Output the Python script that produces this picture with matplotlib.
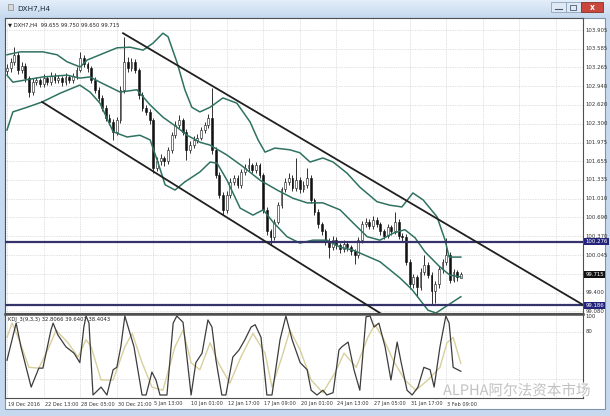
import numpy as np
import matplotlib
matplotlib.use("Agg")
import matplotlib.pyplot as plt
from matplotlib.patches import Rectangle, Ellipse
import matplotlib.patheffects as pe

# ---- candles (DXH7, H4), two source bars per candle ----
opens = [103.20, 103.25, 103.36, 103.48, 103.22, 103.29, 103.08, 102.84, 103.02, 103.05,
         102.98, 103.08, 103.02, 103.12, 103.05, 103.08, 103.02, 103.10, 103.05, 103.12,
         103.22, 103.43, 103.32, 103.25, 103.05, 102.88, 102.74, 102.57, 102.40, 102.33,
         102.16, 102.36, 102.88, 103.36, 103.25, 103.36, 103.22, 102.79, 102.57, 102.50,
         102.36, 101.54, 101.65, 101.71, 101.65, 101.85, 102.11, 102.28, 102.36, 102.16,
         101.85, 101.94, 102.02, 102.06, 102.19, 102.28, 102.40, 101.85, 101.42, 101.08,
         100.82, 101.08, 101.30, 101.37, 101.25, 101.47, 101.54, 101.59, 101.51, 101.59,
         101.42, 100.82, 100.45, 100.35, 100.62, 100.91, 101.17, 101.30, 101.37, 101.20,
         101.34, 101.17, 101.25, 101.37, 100.99, 100.79, 100.57, 100.45, 100.28, 100.18,
         100.31, 100.21, 100.14, 100.24, 100.18, 100.11, 100.04, 100.31, 100.57, 100.62,
         100.55, 100.65, 100.58, 100.45, 100.38, 100.52, 100.45, 100.62, 100.38, 100.35,
         99.93, 99.54, 99.66, 99.49, 99.76, 99.88, 99.71, 99.42, 99.54, 99.80,
         99.93, 100.05, 99.62, 99.76, 99.655]
closes = [103.25, 103.36, 103.48, 103.22, 103.29, 103.08, 102.84, 103.02, 103.05, 102.98,
          103.08, 103.02, 103.12, 103.05, 103.08, 103.02, 103.10, 103.05, 103.12, 103.22,
          103.43, 103.32, 103.25, 103.05, 102.88, 102.74, 102.57, 102.40, 102.33, 102.16,
          102.36, 102.88, 103.36, 103.25, 103.36, 103.22, 102.79, 102.57, 102.50, 102.36,
          101.54, 101.65, 101.71, 101.65, 101.85, 102.11, 102.28, 102.36, 102.16, 101.85,
          101.94, 102.02, 102.06, 102.19, 102.28, 102.40, 101.85, 101.42, 101.08, 100.82,
          101.08, 101.30, 101.37, 101.25, 101.47, 101.54, 101.59, 101.51, 101.59, 101.42,
          100.82, 100.45, 100.35, 100.62, 100.91, 101.17, 101.30, 101.37, 101.20, 101.34,
          101.17, 101.25, 101.37, 100.99, 100.79, 100.57, 100.45, 100.28, 100.18, 100.31,
          100.21, 100.14, 100.24, 100.18, 100.11, 100.04, 100.31, 100.57, 100.62, 100.55,
          100.65, 100.58, 100.45, 100.38, 100.52, 100.45, 100.62, 100.38, 100.35, 99.93,
          99.54, 99.66, 99.49, 99.76, 99.88, 99.71, 99.42, 99.54, 99.80, 99.93,
          100.05, 99.62, 99.76, 99.66, 99.715]
highs = [103.33, 103.42, 103.62, 103.53, 103.35, 103.34, 103.12, 103.09, 103.10, 103.09,
         103.15, 103.12, 103.18, 103.16, 103.13, 103.12, 103.17, 103.14, 103.17, 103.27,
         103.53, 103.47, 103.36, 103.29, 103.10, 102.93, 102.79, 102.62, 102.46, 102.38,
         102.42, 102.95, 103.79, 103.44, 103.42, 103.40, 103.26, 102.84, 102.62, 102.55,
         102.40, 101.72, 101.77, 101.75, 101.90, 102.16, 102.34, 102.44, 102.40, 102.20,
         102.00, 102.08, 102.12, 102.24, 102.33, 102.47, 102.91, 101.90, 101.47, 101.13,
         101.14, 101.36, 101.42, 101.41, 101.52, 101.60, 101.71, 101.63, 101.64, 101.63,
         101.46, 100.87, 100.50, 100.67, 100.96, 101.22, 101.36, 101.45, 101.41, 101.71,
         101.38, 101.31, 101.54, 101.41, 101.03, 100.83, 100.61, 100.49, 100.33, 100.37,
         100.35, 100.26, 100.30, 100.28, 100.22, 100.15, 100.36, 100.63, 100.68, 100.66,
         100.71, 100.69, 100.62, 100.49, 100.57, 100.56, 100.79, 100.66, 100.43, 100.40,
         99.98, 99.72, 99.70, 99.82, 100.05, 99.92, 99.75, 99.60, 99.85, 99.98,
         100.34, 100.10, 99.81, 99.79, 99.750]
lows = [103.13, 103.19, 103.30, 103.15, 103.17, 103.02, 102.76, 102.79, 102.96, 102.93,
        102.92, 102.96, 102.97, 102.99, 103.00, 102.95, 102.97, 102.99, 103.00, 103.07,
        103.18, 103.27, 103.19, 103.00, 102.82, 102.68, 102.51, 102.34, 102.27, 102.02,
        102.11, 102.31, 102.83, 103.19, 103.20, 103.16, 102.73, 102.51, 102.44, 102.30,
        101.46, 101.48, 101.59, 101.58, 101.60, 101.80, 102.06, 102.23, 102.10, 101.68,
        101.80, 101.88, 101.97, 102.01, 102.13, 102.22, 101.78, 101.36, 101.02, 100.73,
        100.77, 101.02, 101.24, 101.19, 101.20, 101.41, 101.48, 101.45, 101.46, 101.36,
        100.76, 100.39, 100.22, 100.30, 100.57, 100.86, 101.12, 101.25, 101.14, 101.15,
        101.11, 101.12, 101.20, 100.93, 100.73, 100.51, 100.39, 100.22, 100.00, 100.13,
        100.15, 100.08, 100.09, 100.12, 100.05, 99.89, 99.99, 100.26, 100.52, 100.49,
        100.50, 100.53, 100.39, 100.32, 100.33, 100.39, 100.40, 100.32, 100.29, 99.87,
        99.46, 99.48, 99.32, 99.44, 99.70, 99.65, 99.20, 99.23, 99.48, 99.74,
        99.88, 99.56, 99.58, 99.60, 99.650]

# ---- Bollinger bands (candle index, price) ----
bb_up_idx = [0, 3.6, 9.8, 13.7, 16.4, 20.0, 21.9, 25.4, 30.1, 33.6, 37.2, 39.9, 42.6, 44.0,
             46.5, 48.6, 50.5, 52.7, 55.5, 59.0, 62.8, 66.4, 68.6, 70.5, 73.2, 77.3, 80.0,
             82.8, 86.3, 89.1, 92.9, 96.4, 101.1, 104.6, 107.9, 110.9, 113.7, 117.5, 119.7,
             120.8, 124]
bb_up_val = [103.48, 103.53, 103.53, 103.48, 103.36, 103.27, 103.39, 103.48, 103.60, 103.61,
             103.56, 103.68, 103.85, 103.79, 103.34, 102.88, 102.58, 102.50, 102.58, 102.74,
             102.65, 102.33, 102.02, 101.81, 101.88, 101.85, 101.80, 101.64, 101.71, 101.64,
             101.45, 101.21, 100.96, 100.90, 100.87, 101.11, 100.99, 100.70, 100.30, 100.01,
             100.01]
bb_mid_idx = [0, 1.6, 9.8, 16.4, 19.9, 22.7, 25.4, 30.9, 35.5, 39.1, 42.6, 46.4, 49.2, 52.7,
              55.5, 60.1, 64.5, 69.1, 73.8, 78.1, 82.0, 86.3, 91.0, 94.5, 98.4, 101.9, 105.5,
              108.7, 111.5, 114.2, 118.3, 121.0, 124]
bb_mid_val = [103.13, 103.01, 103.10, 103.13, 103.08, 103.10, 103.01, 102.84, 102.88, 102.62,
              102.41, 102.24, 102.10, 101.98, 101.93, 101.76, 101.56, 101.33, 101.16, 101.02,
              100.94, 100.94, 100.82, 100.60, 100.36, 100.30, 100.42, 100.48, 100.34, 100.10,
              99.84, 99.70, 99.67]
bb_low_idx = [0, 1.6, 5.5, 9.6, 14.5, 19.9, 22.7, 25.4, 29.0, 32.8, 36.3, 39.1, 41.0, 43.2,
              45.9, 48.6, 52.7, 55.5, 57.4, 60.1, 63.7, 67.2, 70.0, 72.7, 76.5, 80.0, 83.6,
              87.4, 91.0, 94.5, 96.4, 101.9, 107.4, 110.7, 115.0, 117.2, 121.3, 124]
bb_low_val = [102.19, 102.50, 102.58, 102.67, 102.82, 102.96, 102.84, 102.65, 102.16, 102.07,
              102.10, 102.02, 101.68, 101.25, 101.16, 101.30, 101.47, 101.64, 101.62, 101.33,
              100.85, 100.73, 100.82, 100.61, 100.36, 100.25, 100.30, 100.30, 100.18, 100.13,
              100.08, 99.93, 99.65, 99.45, 99.10, 99.05, 99.22, 99.33]

# ---- drawn objects ----
chan_up = [(31.7, 103.85), (157.4, 99.19)]
chan_low = [(9.6, 102.67), (101.4, 99.07)]
levels = [100.276, 99.186]
last_price = 99.715

price_ticks = [103.905, 103.585, 103.265, 102.940, 102.620, 102.300, 101.975, 101.655,
               101.335, 101.010, 100.690, 100.370, 100.045, 99.725, 99.400, 99.080]
time_labels = ["19 Dec 2016", "22 Dec 13:00", "28 Dec 05:00", "30 Dec 21:00", "5 Jan 13:00",
               "10 Jan 01:00", "12 Jan 17:00", "17 Jan 09:00", "20 Jan 01:00", "24 Jan 13:00",
               "27 Jan 05:00", "31 Jan 17:00", "3 Feb 09:00"]

# ---- KDJ oscillator ----
k_idx = [0, 2.5, 3.8, 6.6, 8.7, 9.8, 12, 12.6, 13.9, 16.1, 18.3, 19.9, 21, 21.6, 22.4, 23.5,
         25.7, 27.3, 29, 30, 31.1, 32.2, 33.1, 34.7, 36.9, 38, 39.6, 40.7, 41.8, 43.7, 45.4,
         46.4, 48.1, 50.3, 51.6, 53.3, 54.9, 56, 57.1, 58.7, 59.8, 61.7, 63.4, 65, 66.7, 67.8,
         69.4, 71, 72.4, 74.6, 76.2, 77.9, 80.1, 82, 83.1, 84.7, 86.3, 87.4, 89.1, 90.7, 91.5,
         93.2, 94.8, 96.4, 98.1, 99.2, 100.3, 101.6, 103.3, 104.9, 106.6, 107.7, 109.3, 110.7,
         112.3, 113.9, 115.6, 116.7, 118.3, 119.9, 120.8, 121.9, 124]
k_val = [44, 91, 61, 10, 34, 34, 82, 91, 76, 61, 53, 41, 86, 100, 91, 0, 10, 0, 32, 35, 61,
         100, 86, 61, 0, 0, 29, 19, 0, 0, 91, 100, 92, 0, 41, 53, 95, 86, 44, 0, 0, 48, 57, 70,
         86, 89, 73, 0, 0, 70, 100, 70, 41, 32, 6, 0, 6, 0, 3, 57, 61, 67, 32, 6, 99, 100, 86,
         91, 61, 19, 67, 41, 6, 0, 10, 35, 32, 10, 61, 100, 91, 35, 30]
d_idx = [0, 1.4, 3.3, 6, 8.7, 11.5, 13.4, 16.7, 19.4, 21.6, 23, 25.7, 29, 32.2, 34.2, 36.9,
         39.6, 42.6, 45.9, 48.1, 50.3, 52.7, 55.5, 57.7, 60.9, 63.9, 67.2, 70.5, 72.4, 75.1,
         77.3, 80.1, 83.1, 86.3, 89.6, 92.1, 95.4, 98.6, 100.5, 102.7, 105.5, 108.7, 111.7,
         115, 118.3, 120.2, 121.9, 124]
d_val = [73, 91, 70, 35, 34, 61, 82, 66, 48, 70, 61, 19, 19, 61, 78, 41, 10, 6, 61, 82, 41,
         32, 66, 41, 15, 48, 78, 53, 10, 48, 82, 57, 19, 3, 28, 53, 35, 73, 89, 73, 44, 19, 6,
         19, 35, 66, 73, 40]

W, H = 610, 416
X0, XSTEP = 7, 3.66  # pixel of first candle, pixels per candle


def fx(x):
    return x / W


def fy(y):
    return 1 - y / H


fig = plt.figure(figsize=(W / 100, H / 100), dpi=100)
fig.patch.set_facecolor("#c6d9ee")

# window chrome in pixel coordinates
bg = fig.add_axes([0, 0, 1, 1], zorder=-5)
bg.set_xlim(0, W)
bg.set_ylim(H, 0)
bg.axis("off")
grad = np.linspace(0, 1, 50).reshape(-1, 1)
bg.imshow(grad, extent=[0, W, 16, 0], aspect="auto",
          cmap=matplotlib.colors.LinearSegmentedColormap.from_list("t", ["#e4eefa", "#c8dbef"]))
bg.add_patch(Rectangle((5, 18), 600, 391, facecolor="white", edgecolor="#7f93ab", lw=0.8))
bg.add_patch(Rectangle((8, 4), 5, 6, facecolor="#d8d8d8", edgecolor="#8a8a8a", lw=0.5))
bg.text(17, 8.5, "DXH7,H4", fontsize=5.2, color="#1c2838", va="center")
bg.add_patch(Rectangle((551, 2), 15, 10, facecolor="#dfe9f5", edgecolor="#8ea3bb", lw=0.6))
bg.add_patch(Rectangle((566, 2), 15, 10, facecolor="#dfe9f5", edgecolor="#8ea3bb", lw=0.6))
bg.add_patch(Rectangle((581, 2), 22, 10, facecolor="#c9473d", edgecolor="#8a2e27", lw=0.6))
bg.plot([555, 562], [9, 9], color="#4a5a6e", lw=0.8)
bg.add_patch(Rectangle((570, 4.5), 6, 5, facecolor="none", edgecolor="#4a5a6e", lw=0.6))
bg.text(592, 7, "x", fontsize=5.5, color="white", ha="center", va="center", weight="bold")

xlim = ((5 - X0) / XSTEP, (583 - X0) / XSTEP)
grid_kw = dict(color="#c4c4c4", lw=0.5, linestyle=(0, (1, 1.5)), zorder=0)

# main price pane
ax = fig.add_axes([fx(5), fy(313), 578 / W, 295 / H])
ax.set_xlim(*xlim)
ax.set_ylim(103.905 - (313 - 30) / 58.3, 103.905 + 12 / 58.3)
ax.set_xticks([])
ax.set_yticks([])
for s in ax.spines.values():
    s.set_color("#505050")
    s.set_linewidth(0.8)
for k in range(16):
    ax.axvline(k * 10, **grid_kw)
for p in price_ticks:
    ax.axhline(p, **grid_kw)

o = np.array(opens)
c = np.array(closes)
idx = np.arange(len(c))
up = c >= o
ax.vlines(idx, lows, highs, color="#111111", lw=0.6, zorder=3)
ax.bar(idx, np.maximum(np.abs(c - o), 0.004), bottom=np.minimum(o, c), width=0.5,
       color=np.where(up, "white", "#111111"), edgecolor="#111111", lw=0.4, zorder=4)

band_col = "#2f7262"
ax.plot(bb_up_idx, bb_up_val, color=band_col, lw=1.1, zorder=5)
ax.plot(bb_mid_idx, bb_mid_val, color=band_col, lw=1.1, zorder=5)
ax.plot(bb_low_idx, bb_low_val, color=band_col, lw=1.1, zorder=5)

for lv in levels:
    ax.axhline(lv, color="#34346a", lw=1.6, zorder=6)

for (x1, y1), (x2, y2) in [chan_up, chan_low]:
    slope = (y2 - y1) / (x2 - x1)
    ax.plot([x1, 170], [y1, y1 + slope * (170 - x1)], color="#202020", lw=1.3, zorder=6)

ytr = ax.get_yaxis_transform()
for p in price_ticks:
    if abs(p - last_price) < 0.05:
        continue
    ax.text(1.005, p, f"{p:.3f}", transform=ytr, fontsize=3.9, color="#333333",
            va="center", clip_on=False)
box_kw = dict(transform=ytr, fontsize=3.9, color="white", va="center", clip_on=False)
ax.text(1.004, levels[0], f"{levels[0]:.3f}",
        bbox=dict(boxstyle="square,pad=0.2", fc="#23237c", ec="none"), **box_kw)
ax.text(1.004, levels[1], f"{levels[1]:.3f}",
        bbox=dict(boxstyle="square,pad=0.2", fc="#23237c", ec="none"), **box_kw)
ax.text(1.004, last_price, f"{last_price:.3f}",
        bbox=dict(boxstyle="square,pad=0.2", fc="#111111", ec="none"), **box_kw)
ax.text(0.005, 0.985, "\u25bc DXH7,H4  99.655 99.750 99.650 99.715", transform=ax.transAxes,
        fontsize=3.8, color="#222222", va="top")

# KDJ pane
ax2 = fig.add_axes([fx(5), fy(398), 578 / W, 84 / H])
ax2.set_xlim(*xlim)
ax2.set_ylim((395 - 398) / 0.79, (395 - 314) / 0.79)
ax2.set_xticks([])
ax2.set_yticks([])
for s in ax2.spines.values():
    s.set_color("#505050")
    s.set_linewidth(0.8)
ax2.spines["top"].set_linewidth(1.8)
for k in range(16):
    ax2.axvline(k * 10, **grid_kw)
for lv in (80, 20):
    ax2.axhline(lv, **grid_kw)
ax2.plot(d_idx, d_val, color="#d8cf9c", lw=1.0, zorder=3)
ax2.plot(k_idx, k_val, color="#3c3c3c", lw=0.9, zorder=4)
ytr2 = ax2.get_yaxis_transform()
for v in (100, 80):
    ax2.text(1.005, v, str(v), transform=ytr2, fontsize=3.9, color="#333333",
             va="center", clip_on=False)
ax2.text(0.005, 0.97, "KDJ_3(9,3,3) 32.8066 39.6407 38.4043", transform=ax2.transAxes,
         fontsize=3.8, color="#222222", va="top")

# time axis
for k, lab in enumerate(time_labels):
    fig.text(fx(X0 + k * 10 * XSTEP + 1), fy(404), lab, fontsize=3.6, color="#333333",
             va="center")

# watermark
bg.add_patch(Ellipse((428, 390), 15, 11, facecolor="none", edgecolor="#bcbcbc", lw=1.0))
bg.add_patch(Ellipse((436, 394), 11, 9, facecolor="none", edgecolor="#bcbcbc", lw=1.0))
fig.text(fx(443), fy(391), "ALPHA阿尔法资本市场", fontsize=10.5, color="#bdbdbd",
         family=["Noto Sans CJK SC", "DejaVu Sans"], va="center", alpha=0.9,
         path_effects=[pe.withStroke(linewidth=1.5, foreground="white")])

fig.savefig("out.png", dpi=100)
